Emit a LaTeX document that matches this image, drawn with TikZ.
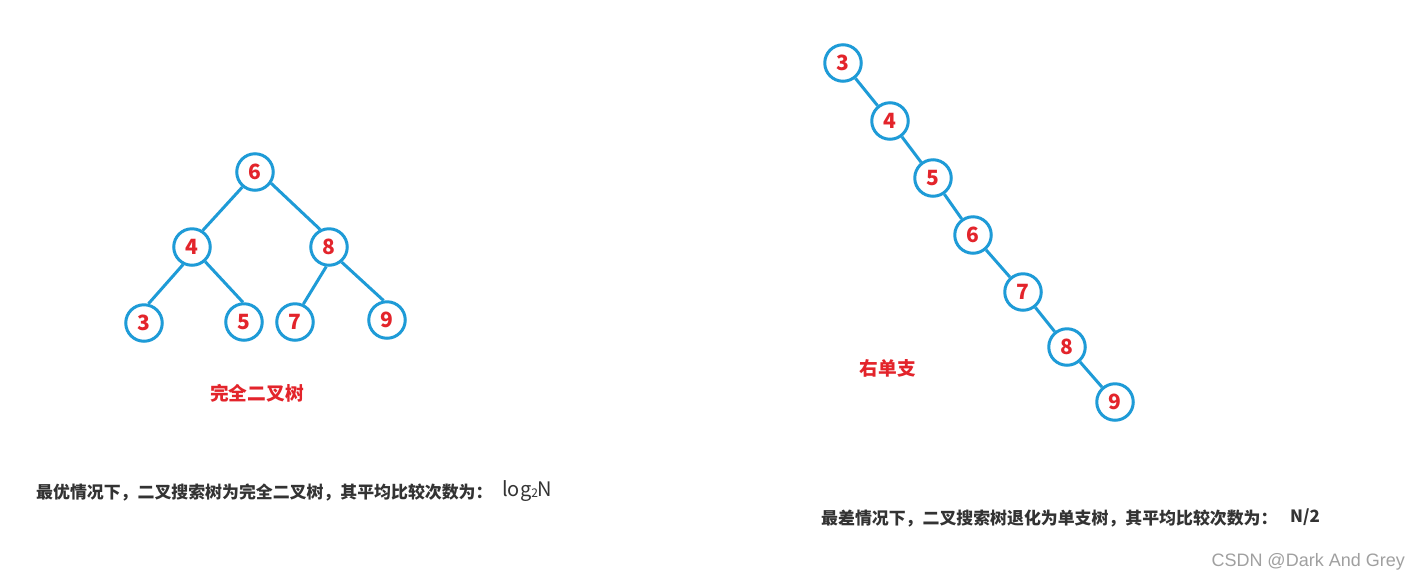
\documentclass[tikz,border=0pt]{standalone}
\usepackage{fontspec}
\newfontfamily\cjk{Noto Sans CJK SC}
\newfontfamily\wm{Liberation Sans}
\definecolor{treeblue}{HTML}{1E9BD7}
\definecolor{treered}{HTML}{E3242B}
\definecolor{textgray}{HTML}{333333}
\definecolor{wmgray}{HTML}{A0A0A0}
\tikzset{
  tnode/.style={circle, draw=treeblue, line width=3pt, minimum size=36.5pt, inner sep=0pt,
    text=treered, font=\cjk\bfseries\fontsize{21}{21}\selectfont},
  tedge/.style={draw=treeblue, line width=3pt},
  tlabel/.style={text=treered, font=\cjk\bfseries\fontsize{18.7}{18.7}\selectfont, inner sep=0pt},
  btext/.style={text=textgray, font=\cjk\bfseries\fontsize{16.9}{16.9}\selectfont, inner sep=0pt, anchor=west},
}
\begin{document}
\begin{tikzpicture}[x=1pt, y=-1pt]
\useasboundingbox[fill=white] (0,0) rectangle (1420,582);
% left tree
\node[tnode] (n6) at (255,172) {6};
\node[tnode] (n4) at (192,247) {4};
\node[tnode] (n8) at (329,247) {8};
\node[tnode] (n3) at (144,323) {3};
\node[tnode] (n5) at (244,322) {5};
\node[tnode] (n7) at (295,322) {7};
\node[tnode] (n9) at (387,320) {9};
\draw[tedge] (n6.230) -- (n4.57);
\draw[tedge] (n6.-35) -- (n8.117);
\draw[tedge] (n4.243) -- (n3.77);
\draw[tedge] (n4.-48) -- (n5.93);
\draw[tedge] (n8.262) -- (n7.65);
\draw[tedge] (n8.-50) -- (n9.100);
\node[tlabel] (lab1) at (257,393) {完全二叉树};
% right chain
\node[tnode] (r3) at (843,63) {3};
\node[tnode] (r4) at (890,121) {4};
\node[tnode] (r5) at (933,178) {5};
\node[tnode] (r6) at (973,235) {6};
\node[tnode] (r7) at (1023,292) {7};
\node[tnode] (r8) at (1067,347) {8};
\node[tnode] (r9) at (1115,402) {9};
\draw[tedge] (r3) -- (r4);
\draw[tedge] (r4) -- (r5);
\draw[tedge] (r5) -- (r6);
\draw[tedge] (r6) -- (r7);
\draw[tedge] (r7) -- (r8);
\draw[tedge] (r8) -- (r9);
\node[tlabel] (lab2) at (888,368) {右单支};
% bottom texts
\node[btext] (t1) at (36,492) {最优情况下，二叉搜索树为完全二叉树，其平均比较次数为：};
\node[text=textgray, font=\cjk\fontsize{20}{20}\selectfont, inner sep=0pt, anchor=west] (t1b) at (502,491) {log{\fontsize{12}{12}\selectfont\raisebox{-1pt}{2}}N};
\node[btext] (t2) at (821,518) {最差情况下，二叉搜索树退化为单支树，其平均比较次数为：};
\node[btext] (t2b) at (1290,517) {N/2};
\node[text=wmgray, font=\wm\fontsize{18}{18}\selectfont, inner sep=0pt, anchor=east] (wm) at (1405,562) {CSDN @Dark And Grey};
\end{tikzpicture}
\end{document}
